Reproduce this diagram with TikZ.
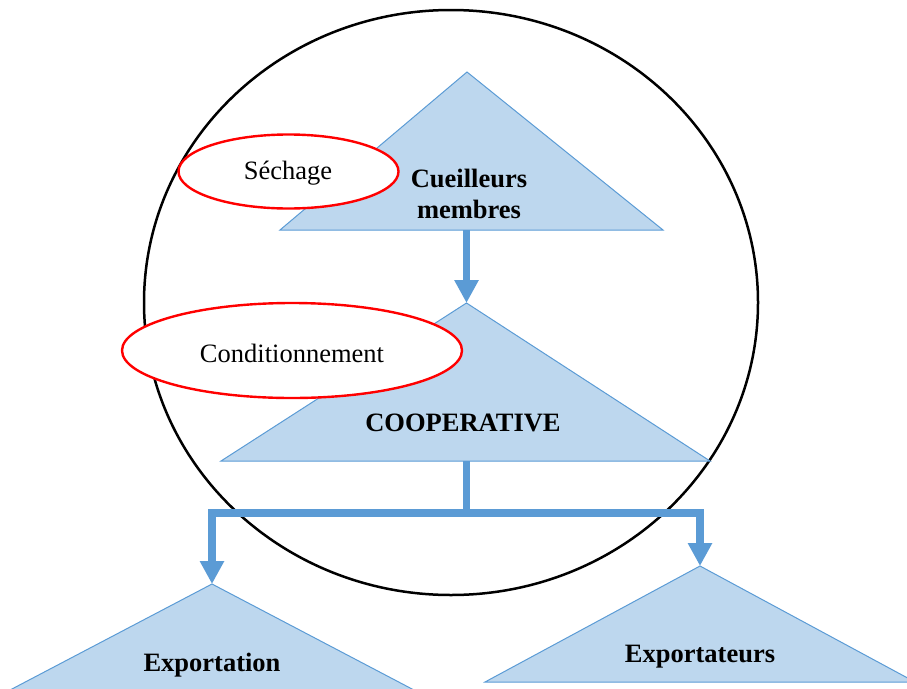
\documentclass[tikz,border=0pt]{standalone}
\usepackage{fontspec}
\setmainfont{Liberation Serif}
\usetikzlibrary{arrows.meta}
\definecolor{trifill}{HTML}{BDD7EE}
\definecolor{triline}{HTML}{5B9BD5}
\definecolor{flow}{HTML}{5B9BD5}
\definecolor{redline}{HTML}{FF0000}
\tikzset{
  tri/.style={fill=trifill, draw=triline, line width=1pt, line join=miter},
  flowline/.style={draw=flow, line width=7.5pt, line join=miter},
  flowarrow/.style={flowline, -{Triangle[length=23pt,width=23pt]}},
  stageshape/.style={draw=redline, fill=white, line width=2.4pt},
  lbl/.style={font=\fontsize{26.5}{31}\selectfont, inner sep=0pt},
  blbl/.style={lbl, font=\fontsize{26.5}{31}\selectfont\bfseries, align=center}
}
\begin{document}
\begin{tikzpicture}[x=1pt,y=-1pt]
\useasboundingbox (0,0) rectangle (907,688);
\clip (0,0) rectangle (907,688);
% big circle
\draw[line width=2.5pt] (451,302.5) ellipse [x radius=307, y radius=292.5];
% triangle corner coordinates
\coordinate (t1a) at (467,72);
\coordinate (t1l) at (280,230);
\coordinate (t1r) at (663,230);
\coordinate (t1b) at (466.5,230);
\coordinate (t2a) at (466.5,303);
\coordinate (t2l) at (221,461);
\coordinate (t2r) at (710,461);
\coordinate (t2b) at (466.5,461);
\coordinate (t3a) at (212,584);
\coordinate (t3l) at (-9,700);
\coordinate (t3r) at (433,700);
\coordinate (t4a) at (700,566);
\coordinate (t4l) at (485,682);
\coordinate (t4r) at (915,682);
\coordinate (split) at (466.5,513);
% triangles
\draw[tri] (t1a) -- (t1l) -- (t1r) -- cycle;
\draw[tri] (t2a) -- (t2l) -- (t2r) -- cycle;
\draw[tri] (t3a) -- (t3l) -- (t3r) -- cycle;
\draw[tri] (t4a) -- (t4l) -- (t4r) -- cycle;
% connectors
\draw[flowarrow] (t1b) -- (t2a);
\draw[flowline] (t2b) -- (split);
\draw[flowarrow] (split) -| (t3a);
\draw[flowarrow] (split) -| (t4a);
% stage ellipses
\draw[stageshape] (288.5,171.5) ellipse [x radius=110, y radius=37];
\node[lbl] (sechage) at (288,173.5) {Séchage};
\draw[stageshape] (292,350.5) ellipse [x radius=170, y radius=47.5];
\node[lbl] (cond) at (292,353) {Conditionnement};
% triangle labels
\node[blbl] (cueil) at (469,194) {Cueilleurs\\membres};
\node[blbl] (coop) at (463,423) {COOPERATIVE};
\node[blbl] (expo) at (212,665) {Exportation};
\node[blbl] (expt) at (700,657) {Exportateurs};
\end{tikzpicture}
\end{document}
